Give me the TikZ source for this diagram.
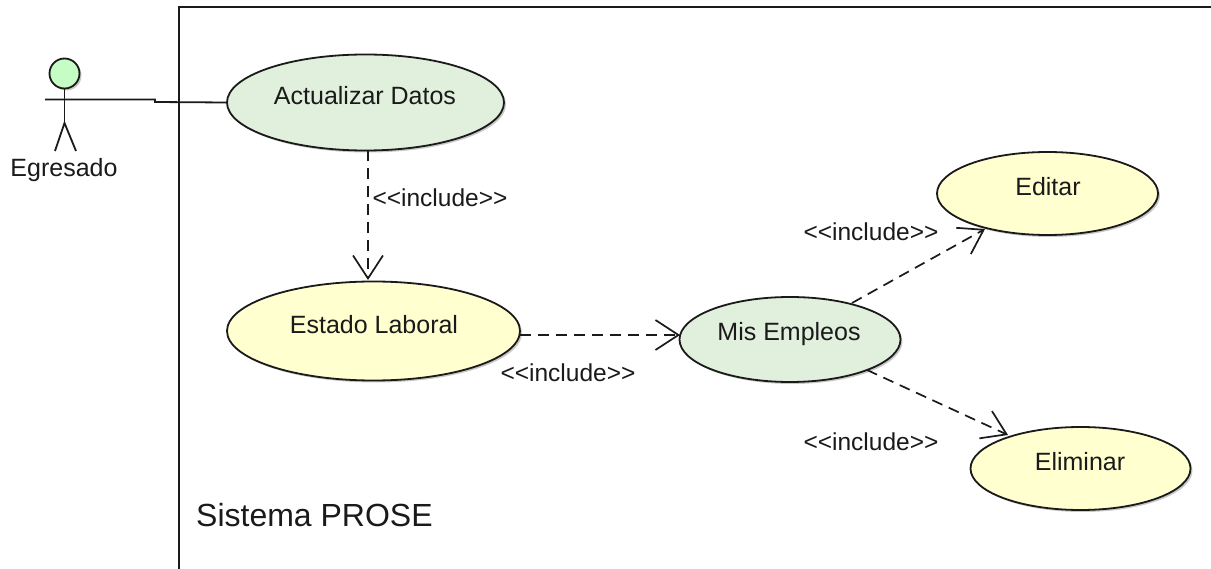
\documentclass[tikz,border=0pt]{standalone}
\usepackage{fontspec}
\setmainfont{Liberation Sans}
\usetikzlibrary{arrows.meta,shapes.geometric,shadows}
\definecolor{ugreen}{HTML}{E1EFDD}
\definecolor{uyellow}{HTML}{FFFFCF}
\definecolor{agreen}{HTML}{C5FDC5}
\definecolor{ink}{HTML}{1A1A1A}
\tikzset{x=1pt,y=-1pt,
 softshadow/.style={drop shadow={shadow xshift=2pt,shadow yshift=-2pt,fill=black!30,opacity=.7}},
 usecase/.style={ellipse,draw=ink,line width=1.8pt,inner sep=0pt,minimum width=#1,softshadow},
 lab/.style={font=\fontsize{25}{27}\selectfont,text=ink,inner sep=0pt},
 inclab/.style={font=\fontsize{24.5}{26}\selectfont,text=ink,inner sep=0pt},
 dep/.style={draw=ink,line width=1.7pt,dash pattern=on 11pt off 7pt,-{Straight Barb[length=23pt,width=30pt,line width=1.7pt]}},
 solid line/.style={draw=ink,line width=1.8pt}}
\begin{document}
\begin{tikzpicture}
\useasboundingbox (0,0) rectangle (1211,569);
\path[fill=white] (0,0) rectangle (1211,569);
\coordinate (bl) at (179,569); \coordinate (tl) at (179,7); \coordinate (tr) at (1211,7);
\draw[solid line] (bl) -- (tl) -- (tr);
\coordinate (handl) at (45,99.5); \coordinate (handr) at (155,99.5);
\node[usecase=277pt,minimum height=96pt,fill=ugreen] (act) at (365.5,102.5) {};
\node[lab] (tact) at (365,96) {Actualizar Datos};
\node[usecase=293pt,minimum height=99pt,fill=uyellow] (est) at (373.5,331) {};
\node[lab] (test) at (374,325) {Estado Laboral};
\node[usecase=221pt,minimum height=85pt,fill=ugreen] (emp) at (790,339.5) {};
\node[lab] (temp) at (789,334.5) {Mis Empleos};
\node[usecase=221pt,minimum height=83pt,fill=uyellow] (edi) at (1047.5,193.5) {};
\node[lab] (tedi) at (1048,187) {Editar};
\node[usecase=220pt,minimum height=83pt,fill=uyellow] (eli) at (1080.5,468.5) {};
\node[lab] (teli) at (1080,462) {Eliminar};
\node[circle,draw=ink,line width=1.8pt,fill=agreen,minimum size=30pt,inner sep=0pt,softshadow] (head) at (64.5,73.5) {};
\coordinate (crotch) at (64.5,123);
\coordinate (footl) at (55,151); \coordinate (footr) at (76,151);
\draw[solid line] (head) -- (crotch);
\draw[solid line] (handl) -- (handr) -- (155,102) -- (act.west);
\draw[solid line] (footl) -- (crotch) -- (footr);
\node[lab] (tact2) at (64,170) {Egresado};
\coordinate (a1) at (368,150); \coordinate (a2) at (368,280);
\coordinate (b1) at (520,335); \coordinate (b2) at (680,335);
\coordinate (c1) at (852,303); \coordinate (c2) at (985,229);
\coordinate (d1) at (867,370); \coordinate (d2) at (1008,435);
\draw[dep] (a1) -- (a2);
\draw[dep] (b1) -- (b2);
\draw[dep] (c1) -- (c2);
\draw[dep] (d1) -- (d2);
\node[inclab] (i1) at (440,198) {<{}<include>{}>};
\node[inclab] (i2) at (568,373) {<{}<include>{}>};
\node[inclab] (i3) at (871,232) {<{}<include>{}>};
\node[inclab] (i4) at (871,442) {<{}<include>{}>};
\node[font=\fontsize{32}{36}\selectfont,text=ink,inner sep=0pt,anchor=west] (sys) at (196,515) {Sistema PROSE};
\end{tikzpicture}
\end{document}
